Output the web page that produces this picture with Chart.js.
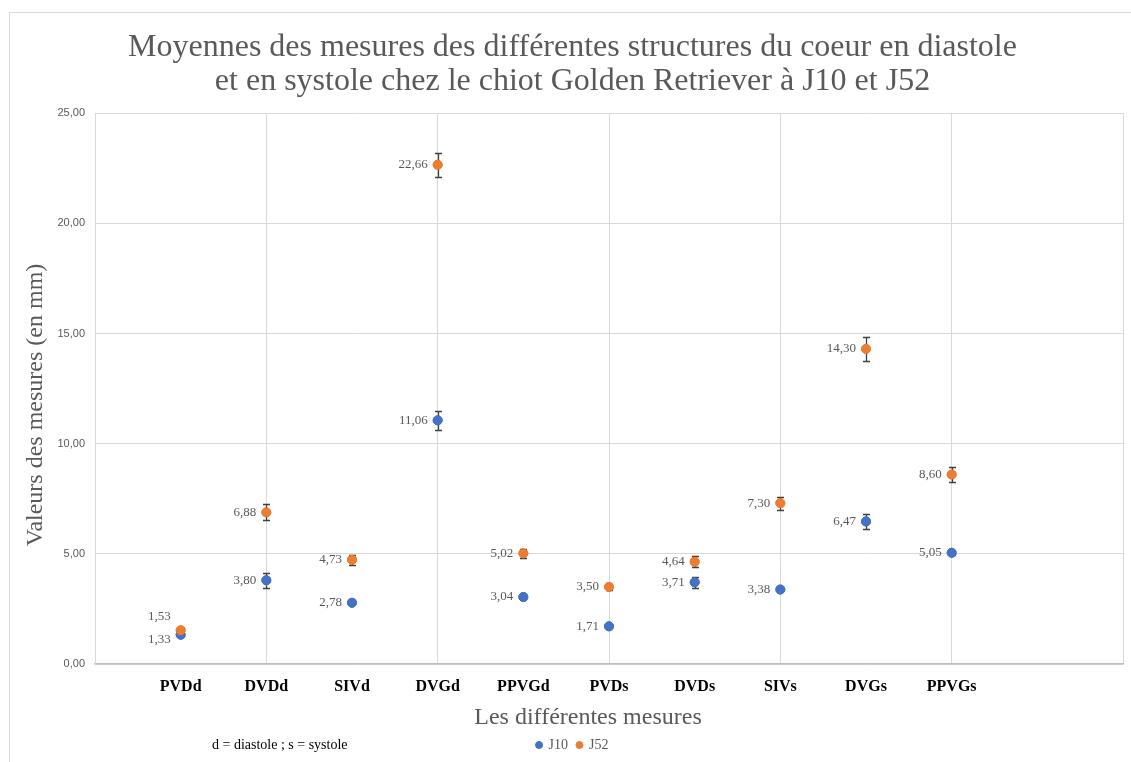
<!DOCTYPE html>
<html>
<head>
<meta charset="utf-8">
<script src="https://cdn.jsdelivr.net/npm/chart.js@4/dist/chart.umd.min.js"></script>
<style>
  html, body { margin: 0; padding: 0; background: #fff; }
  #wrap { width: 1131px; height: 762px; }
</style>
</head>
<body>
<div id="wrap"><canvas id="mesures" width="1131" height="762"></canvas></div>
<script>
// mesures moyennes (mm) et écarts
const categories = ['PVDd', 'DVDd', 'SIVd', 'DVGd', 'PPVGd', 'PVDs', 'DVDs', 'SIVs', 'DVGs', 'PPVGs']
const j10 = [1.33, 3.80, 2.78, 11.06, 3.04, 1.71, 3.71, 3.38, 6.47, 5.05]
const j10Err = [0.08, 0.35, 0, 0.43, 0, 0, 0.26, 0, 0.32, 0.1]
const j52 = [1.53, 6.88, 4.73, 22.66, 5.02, 3.50, 4.64, 7.30, 14.30, 8.60]
const j52Err = [0.1, 0.36, 0.22, 0.54, 0.2, 0.12, 0.26, 0.29, 0.54, 0.36]
const yTicks = [0, 5, 10, 15, 20, 25]

const serif = 'Liberation Serif'
const grey = '#595959'

const toPoints = vals => vals.map((v, i) => ({ x: i + 1, y: v }))
const frNum = v => v.toFixed(2).replace('.', ',')

// cadre autour du graphique
const frame = {
    id: 'frame',
    beforeDraw(chart) {
        const ctx = chart.ctx
        ctx.save()
        ctx.strokeStyle = '#d9d9d9'
        ctx.lineWidth = 1
        ctx.strokeRect(9.5, 12.5, 1200, 800)
        ctx.restore()
    }
}

// barres d'erreur
const errorBars = {
    id: 'errorBars',
    afterDatasetsDraw(chart) {
        const ctx = chart.ctx
        const y = chart.scales.y
        ctx.save()
        ctx.strokeStyle = '#404040'
        ctx.lineWidth = 1.3
        chart.data.datasets.forEach((ds, di) => {
            const meta = chart.getDatasetMeta(di)
            ds.errors.forEach((e, i) => {
                if (!e) return
                const pt = meta.data[i]
                const v = ds.data[i].y
                const top = Math.round(y.getPixelForValue(v + e)) + 0.5
                const bot = Math.round(y.getPixelForValue(v - e)) + 0.5
                const x = Math.round(pt.x) + 0.5
                ctx.beginPath()
                ctx.moveTo(x, top); ctx.lineTo(x, bot)
                ctx.moveTo(x - 3.5, top); ctx.lineTo(x + 3.5, top)
                ctx.moveTo(x - 3.5, bot); ctx.lineTo(x + 3.5, bot)
                ctx.stroke()
            })
        })
        // points redessinés au-dessus des barres
        chart.data.datasets.forEach((ds, di) => {
            chart.getDatasetMeta(di).data.forEach(el => el.draw(ctx, chart.chartArea))
        })
        ctx.restore()
    }
}

// étiquettes de valeurs à gauche des points
const valueLabels = {
    id: 'valueLabels',
    afterDraw(chart) {
        const ctx = chart.ctx
        ctx.save()
        ctx.font = '13px "' + serif + '"'
        ctx.fillStyle = grey
        ctx.textAlign = 'right'
        ctx.textBaseline = 'middle'
        const m0 = chart.getDatasetMeta(0).data
        const m1 = chart.getDatasetMeta(1).data
        chart.data.datasets.forEach((ds, di) => {
            const meta = chart.getDatasetMeta(di)
            meta.data.forEach((pt, i) => {
                let dy = 0
                const gap = m0[i].y - m1[i].y
                if (gap < 16) dy = di === 0 ? 5 : -14
                ctx.fillText(frNum(ds.data[i].y), pt.x - 10, pt.y + dy)
            })
        })
        ctx.restore()
    }
}

// titres d'axes et note
const axisTexts = {
    id: 'axisTexts',
    afterDraw(chart) {
        const ctx = chart.ctx
        ctx.save()
        ctx.fillStyle = grey
        ctx.font = '24px "' + serif + '"'
        ctx.textAlign = 'center'
        ctx.textBaseline = 'middle'
        ctx.fillText('Les différentes mesures', 588, 718)
        ctx.translate(36, 405)
        ctx.rotate(-Math.PI / 2)
        ctx.fillText('Valeurs des mesures (en mm)', 0, 0)
        ctx.restore()

        ctx.save()
        ctx.font = '14px "' + serif + '"'
        ctx.fillStyle = '#000'
        ctx.textBaseline = 'middle'
        ctx.fillText('d = diastole ; s = systole', 212, 745)
        ctx.restore()
    }
}

const ctx = document.querySelector('#mesures')
const chart = new Chart(ctx, {
    type: 'scatter',
    data: {
        datasets: [
            {
                label: 'J10',
                data: toPoints(j10),
                errors: j10Err,
                backgroundColor: '#4472C4',
                borderColor: '#4472C4',
                pointRadius: 4.5,
                pointHoverRadius: 4.5
            },
            {
                label: 'J52',
                data: toPoints(j52),
                errors: j52Err,
                backgroundColor: '#ED7D31',
                borderColor: '#ED7D31',
                pointRadius: 4.5,
                pointHoverRadius: 4.5
            }
        ]
    },
    plugins: [frame, errorBars, valueLabels, axisTexts],
    options: {
        responsive: false,
        animation: false,
        events: [],
        layout: { padding: { left: 22, right: 8, top: 0, bottom: 0 } },
        plugins: {
            tooltip: { enabled: false },
            title: {
                display: true,
                text: ['Moyennes des mesures des différentes structures du coeur en diastole',
                       'et en systole chez le chiot Golden Retriever à J10 et J52'],
                color: grey,
                font: { family: serif, size: 32, weight: 'normal', lineHeight: 1.05 },
                padding: { top: 31, bottom: 15 }
            },
            legend: {
                position: 'bottom',
                labels: {
                    usePointStyle: true,
                    pointStyle: 'circle',
                    boxWidth: 5,
                    boxHeight: 5,
                    padding: 9,
                    color: grey,
                    font: { family: serif, size: 14 }
                }
            }
        },
        scales: {
            x: {
                type: 'linear',
                min: 0,
                max: 12,
                afterFit: s => {
                    s.height = 65
                    s.paddingLeft = 0
                    s.paddingRight = 0
                },
                ticks: {
                    stepSize: 1,
                    autoSkip: false,
                    maxRotation: 0,
                    padding: 13,
                    color: '#000',
                    font: { family: serif, size: 16, weight: 'bold' },
                    callback: v => categories[v - 1] || ''
                },
                grid: {
                    drawTicks: false,
                    color: c => (c.tick && c.tick.value % 2 === 0) ? '#d9d9d9' : 'rgba(0,0,0,0)'
                },
                border: { color: '#bfbfbf', width: 1.5 }
            },
            y: {
                min: 0,
                max: 25,
                afterFit: s => { s.width = 73 },
                afterBuildTicks: s => { s.ticks = yTicks.map(v => ({ value: v })) },
                ticks: {
                    padding: 10,
                    color: grey,
                    font: { family: 'Liberation Sans', size: 11 },
                    callback: v => frNum(v)
                },
                grid: { drawTicks: false, color: '#d9d9d9' },
                border: { color: '#d9d9d9' }
            }
        }
    }
})
</script>
</body>
</html>
